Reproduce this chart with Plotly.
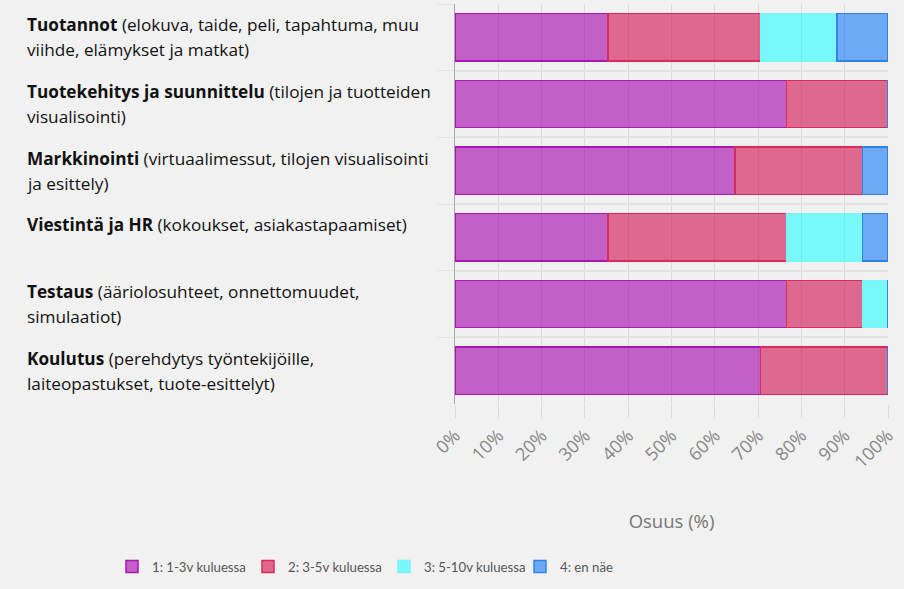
import plotly.graph_objects as go

# Data
categories = ["Tuotannot", "Tuotekehitys ja suunnittelu", "Markkinointi",
              "Viestintä ja HR", "Testaus", "Koulutus"]
label_lines = [
    ["<b>Tuotannot</b> (elokuva, taide, peli, tapahtuma, muu", "viihde, elämykset ja matkat)"],
    ["<b>Tuotekehitys ja suunnittelu</b> (tilojen ja tuotteiden", "visualisointi)"],
    ["<b>Markkinointi</b> (virtuaalimessut, tilojen visualisointi", "ja esittely)"],
    ["<b>Viestintä ja HR</b> (kokoukset, asiakastapaamiset)"],
    ["<b>Testaus</b> (ääriolosuhteet, onnettomuudet,", "simulaatiot)"],
    ["<b>Koulutus</b> (perehdytys työntekijöille,", "laiteopastukset, tuote-esittelyt)"],
]
series_names = ["1: 1-3v kuluessa", "2: 3-5v kuluessa", "3: 5-10v kuluessa", "4: en näe"]
s1 = [35.3, 76.5, 64.7, 35.3, 76.5, 70.6]
s2 = [35.3, 23.5, 29.4, 41.2, 17.6, 29.4]
s3 = [17.6, 0.0, 0.0, 17.6, 5.9, 0.0]
s4 = [11.8, 0.0, 5.9, 5.9, 0.0, 0.0]
x_ticks = [0, 10, 20, 30, 40, 50, 60, 70, 80, 90, 100]
x_ticktext = [f"{v}%" for v in x_ticks]

fills = ["rgba(165,0,172,0.6)", "rgba(209,15,82,0.6)", "rgba(0,255,255,0.5)", "rgba(22,122,247,0.6)"]
lines = ["rgb(165,25,175)", "rgb(220,40,90)", "rgb(120,245,245)", "rgb(50,130,230)"]

fig = go.Figure()
for name, vals, f, lc in zip(series_names, [s1, s2, s3, s4], fills, lines):
    fig.add_trace(go.Bar(
        y=categories, x=vals, name=name, orientation="h",
        marker=dict(color=f, line=dict(color=lc, width=1.5)),
    ))

bg = "#f1f1f1"
fig.update_layout(
    barmode="stack",
    bargap=0.29,
    width=904, height=589,
    paper_bgcolor=bg, plot_bgcolor=bg,
    margin=dict(l=455, r=16, t=4, b=185),
    font=dict(family="Open Sans", color="#666666"),
    legend=dict(orientation="h", xref="paper", x=(112 - 455) / 433, xanchor="left",
                yref="paper", y=(404 - 567) / 400, yanchor="middle",
                font=dict(size=13.2, color="#555555", family="Lato"),
                traceorder="normal", entrywidth=91, entrywidthmode="pixels"),
    xaxis=dict(range=[0, 100], tickvals=x_ticks, ticktext=x_ticktext, tickangle=-45,
               showgrid=True, gridcolor="#dcdcdc", gridwidth=1,
               ticks="outside", ticklen=13, tickcolor="#dcdcdc",
               tickfont=dict(size=18, color="#868686", family="Open Sans"),
               title=dict(text="Osuus (%)", font=dict(size=18.5, color="#777777"), standoff=43),
               zeroline=False, showline=False),
    yaxis=dict(categoryorder="array", categoryarray=categories, autorange="reversed",
               showticklabels=False, tickson="boundaries", ticks="outside", ticklen=17,
               tickcolor="#e2e2e2", showgrid=True, gridcolor="#e2e2e2", gridwidth=2,
               showline=True, linecolor="#a8a8a8", linewidth=1, zeroline=False),
)

for cat, lns in zip(categories, label_lines):
    for k, txt in enumerate(lns):
        fig.add_annotation(
            x=-0.993, xref="paper", xanchor="left",
            y=cat, yref="y", yanchor="middle",
            yshift=12.5 - 25 * k,
            text=txt, showarrow=False, align="left",
            font=dict(family="Open Sans", size=17.2, color="#111111"),
        )

fig.write_html("out.html", config={"displayModeBar": False},
               post_script="document.body.style.margin='0px';document.body.style.background='#f1f1f1';")
